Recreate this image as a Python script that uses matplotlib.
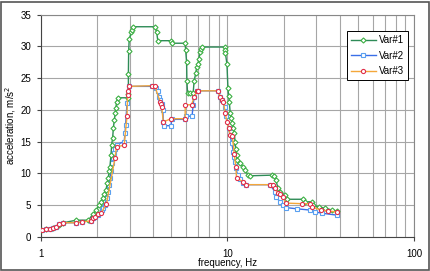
import matplotlib
matplotlib.use("Agg")
import matplotlib.pyplot as plt
from matplotlib.ticker import FixedLocator, NullFormatter, LogLocator
from matplotlib.patches import Rectangle

plt.rcParams['font.family'] = ['Liberation Sans', 'DejaVu Sans']

# Var#1
f1 = [1.00, 1.07, 1.16, 1.26, 1.32, 1.55, 1.80, 1.90, 1.99, 2.06, 2.10, 2.15, 2.19, 2.24,
      2.27, 2.30, 2.33, 2.35, 2.38, 2.40, 2.43, 2.45, 2.48, 2.51, 2.53, 2.55, 2.59, 2.92,
      2.95, 2.95, 2.96, 2.98, 3.05, 3.10, 3.13, 4.09, 4.18, 4.24, 4.99, 5.05, 5.94, 5.98,
      6.05, 6.07, 6.12, 6.29, 6.56, 6.64, 6.78, 6.85, 6.97, 7.03, 7.15, 7.24, 7.34, 9.66,
      9.71, 9.77, 9.95, 10.07, 10.15, 10.24, 10.36, 10.48, 10.64, 10.77, 10.90, 10.99,
      11.08, 11.20, 11.25, 11.66, 12.14, 12.39, 12.91, 13.19, 17.3, 17.8, 18.2, 18.7,
      19.1, 20.3, 20.8, 25.5, 26.1, 28.4, 28.9, 30.8, 33.4, 36.3, 38.6]
a1 = [1.0, 1.2, 1.4, 1.9, 2.2, 2.6, 2.6, 3.5, 4.2, 5.0, 5.5, 6.1, 6.7, 7.4,
      8.4, 9.3, 10.3, 11.0, 12.9, 14.5, 15.6, 17.1, 18.4, 19.5, 20.3, 21.3, 21.9, 21.9,
      22.5, 25.7, 29.3, 31.1, 32.2, 32.6, 33.1, 33.1, 32.3, 30.9, 30.9, 30.5, 30.5, 29.4,
      27.5, 24.6, 22.7, 22.6, 22.7, 24.6, 25.8, 26.8, 27.3, 28.0, 29.1, 29.6, 29.9, 29.9,
      29.4, 28.9, 27.2, 23.5, 22.2, 21.3, 19.5, 18.7, 17.9, 17.1, 16.4, 15.0,
      13.9, 12.9, 12.1, 11.6, 11.0, 10.5, 9.8, 9.6, 9.7, 9.5, 8.9, 7.6,
      7.1, 6.6, 5.9, 5.9, 5.5, 5.5, 5.0, 4.7, 4.5, 4.2, 4.05]

# Var#2
f2 = [1.02, 1.07, 1.12, 1.16, 1.21, 1.26, 1.32, 1.55, 1.67, 1.87, 1.91, 1.96, 2.03, 2.12,
      2.16, 2.21, 2.26, 2.29, 2.31, 2.35, 2.38, 2.42, 2.45, 2.48, 2.51, 2.55, 2.80, 2.83,
      2.85, 2.90, 2.97, 3.93, 4.15, 4.24, 4.31, 4.38, 4.45, 4.51, 4.54, 4.60, 4.99, 5.03,
      5.94, 6.00, 6.47, 6.56, 6.64, 6.85, 7.00, 8.94, 9.12, 9.33, 9.66, 9.83, 10.15, 10.56,
      10.77, 10.90, 10.99, 11.12, 11.34, 11.66, 12.14, 12.65, 16.9, 18.0, 18.3, 19.1, 19.9,
      20.5, 23.5, 27.7, 29.6, 32.1, 38.6]
a2 = [1.0, 1.15, 1.25, 1.4, 1.6, 1.95, 2.2, 2.2, 2.35, 2.5, 2.9, 3.1, 3.4, 4.2,
      4.5, 5.0, 6.1, 7.1, 8.2, 9.2, 10.3, 11.6, 12.4, 13.2, 13.9, 14.5, 15.0, 16.3,
      17.6, 21.0, 23.7, 23.7, 23.4, 23.0, 22.1, 21.6, 20.9, 19.9, 18.1, 17.5, 17.5, 18.5,
      18.5, 19.0, 19.0, 20.8, 22.1, 22.9, 23.0, 23.0, 22.1, 21.6, 20.5, 19.0, 17.1, 14.7,
      13.4, 12.6, 11.8, 10.8, 9.7, 9.1, 8.5, 8.2, 8.2, 7.1, 6.3, 5.5, 5.0,
      4.6, 4.4, 4.2, 3.9, 3.7, 3.4]

# Var#3
f3 = [1.02, 1.07, 1.12, 1.16, 1.21, 1.26, 1.32, 1.55, 1.67, 1.87, 1.91, 1.96, 2.03, 2.11,
      2.25, 2.50, 2.55, 2.80, 2.90, 2.92, 2.95, 2.97, 3.93, 4.09, 4.36, 4.41, 4.45, 4.54,
      4.99, 5.94, 5.95, 6.43, 6.64, 6.85, 7.00, 8.94, 9.12, 9.33, 9.53, 9.73, 9.95, 10.15,
      10.36, 10.64, 10.90, 11.10, 11.21, 12.14, 12.65, 16.9, 17.6, 18.0, 18.7, 19.1, 19.9,
      20.5, 25.2, 27.7, 28.4, 31.8, 34.8, 38.6]
a3 = [1.0, 1.15, 1.25, 1.4, 1.6, 1.95, 2.2, 2.2, 2.35, 2.5, 2.9, 3.15, 3.5, 3.8,
      5.1, 12.4, 14.2, 14.4, 19.0, 22.3, 22.9, 23.7, 23.8, 23.7, 21.3, 20.9, 20.4, 18.1,
      18.6, 18.6, 20.8, 20.8, 22.0, 22.9, 23.0, 23.0, 22.1, 21.6, 21.3, 19.5, 18.1, 17.1,
      16.0, 15.8, 13.0, 11.0, 9.2, 8.7, 8.2, 8.2, 8.2, 7.6, 6.9, 6.8, 6.3,
      5.3, 5.2, 5.2, 4.7, 4.2, 4.05, 3.9]

fig = plt.figure(figsize=(4.31, 2.71), dpi=100)
ax = fig.add_axes([0.0944, 0.1266, 0.8662, 0.8192])

ax.plot(f1, a1, '-', color='#2E8B57', lw=1.0, marker='D', ms=2.6, mfc='white',
        mec='#3CB043', mew=0.8, label='Var#1', zorder=3)
ax.plot(f2, a2, '-', color='#3A6FE8', lw=1.0, marker='s', ms=3.0, mfc='white',
        mec='#5AA0F0', mew=0.8, label='Var#2', zorder=2)
ax.plot(f3, a3, '-', color='#F4A73A', lw=1.0, marker='o', ms=3.0, mfc='white',
        mec='#E0304A', mew=0.8, label='Var#3', zorder=4)

ax.set_xscale('log')
ax.set_xlim(1, 100)
ax.set_ylim(0, 35)
ax.set_yticks(range(0, 36, 5))
ax.xaxis.set_major_locator(FixedLocator([1, 10, 100]))
ax.set_xticklabels(['1', '10', '100'])
ax.xaxis.set_minor_locator(LogLocator(base=10, subs=range(2, 10)))
ax.xaxis.set_minor_formatter(NullFormatter())
ax.grid(True, which='major', color='#A6A6A6', lw=0.8)
ax.grid(True, which='minor', axis='x', color='#A6A6A6', lw=0.8)
ax.tick_params(which='major', direction='out', length=3, width=0.8, colors='#444444',
               labelsize=7, labelcolor='black')
ax.tick_params(axis='y', pad=4)
ax.tick_params(axis='x', pad=6)
ax.tick_params(which='minor', length=0)
for s in ax.spines.values():
    s.set_color('#888888')
    s.set_linewidth(0.8)
ax.spines['left'].set_color('#444444')
ax.spines['bottom'].set_color('#444444')
ax.set_axisbelow(True)

ax.set_xlabel('frequency, Hz', fontsize=7, va='center')
ax.xaxis.set_label_coords(0.5, -0.118)
ax.set_ylabel('acceleration, m/s$^2$', fontsize=7, va='center')
ax.yaxis.set_label_coords(-0.08, 0.5)

leg = ax.legend(loc='upper left', bbox_to_anchor=(0.82, 0.925), fontsize=7,
                fancybox=False, framealpha=1, edgecolor='black', borderpad=0.4,
                handlelength=2.6, handletextpad=0.3, labelspacing=0.55,
                borderaxespad=0)
leg.get_frame().set_linewidth(0.7)

fig.patches.append(Rectangle((0.002, 0.004), 0.994, 0.99, transform=fig.transFigure,
                             fill=False, edgecolor='#555555', lw=1.2))

fig.savefig('out.png', dpi=100)
